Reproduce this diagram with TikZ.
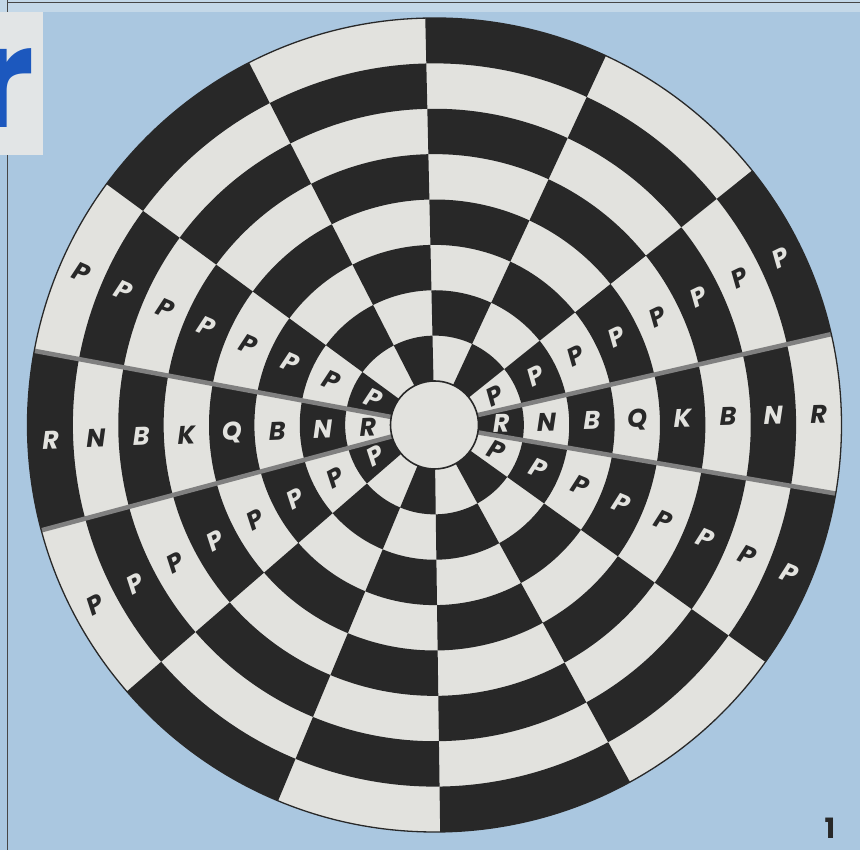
\documentclass[tikz,border=0pt]{standalone}
\usepackage{fontspec}
\newfontfamily\pf{Poppins}
\definecolor{bg}{RGB}{170,199,224}
\definecolor{bgtop}{RGB}{196,216,232}
\definecolor{panel}{RGB}{226,229,230}
\definecolor{lite}{RGB}{226,226,222}
\definecolor{dark}{RGB}{40,40,40}
\definecolor{sep}{RGB}{128,128,128}
\definecolor{frame}{RGB}{70,70,70}
\definecolor{titleblue}{RGB}{28,88,190}
\tikzset{
  piece/.style={font=\pf\bfseries\itshape\fontsize{25.5}{25.5}\selectfont, inner sep=0pt},
  seprule/.style={sep, line width=4.5pt},
  rim/.style={dark, line width=1.3pt}
}
\begin{document}
\begin{tikzpicture}[x=1pt,y=1pt]
\useasboundingbox (0,0) rectangle (860,850);
\fill[bg] (0,0) rectangle (860,850);
\fill[bgtop] (0,838) rectangle (860,850);
% title fragment panel
\fill[panel] (0,695) rectangle (43,838);
\node[titleblue, font=\pf\bfseries\fontsize{140}{140}\selectfont, inner sep=0pt, anchor=base east] (title) at (35,722) {r};
% frame lines
\draw[frame, line width=1pt] (7,0) -- (7,695);
\draw[frame, line width=1pt] (7,838) -- (7,850);
\draw[frame, line width=1pt] (7,847.5) -- (860,847.5);
% page number
\node[dark, font=\pf\bfseries\fontsize{28}{28}\selectfont, inner sep=0pt] (pagenum) at (830,22) {1};
\begin{scope}[shift={(434.5,425)}]
  % board base
  \fill[lite] (0,0) circle (407);
  % dark cells
  \foreach \a/\b [count=\si from 0] in {-9.7/12.9, 12.9/38.7, 38.7/65.1, 65.1/91.3, 91.3/117.1, 117.1/143.7, 143.7/169.5, 169.5/195, 195/220.9, 220.9/247.4, 247.4/270.8, 270.8/298.7, 298.7/324.4, 324.4/350.3} {
    \foreach \r in {1,...,8} {
      \pgfmathtruncatemacro{\pp}{mod(\r+\si,2)}
      \ifnum\pp=1
        \pgfmathsetmacro{\ri}{44+(\r-1)*45.375}
        \pgfmathsetmacro{\ro}{\ri+45.375}
        \fill[dark] (\a:\ri) arc[start angle=\a, end angle=\b, radius=\ri] -- (\b:\ro) arc[start angle=\b, end angle=\a, radius=\ro] -- cycle;
      \fi
    }
  }
  % separators around the back rows
  \coordinate (o) at (0,0);
  \foreach \a [count=\k] in {12.9,-9.7,169.5,195} {
    \coordinate (sa\k) at (\a:44);
    \coordinate (sb\k) at (\a:407);
    \draw[seprule] (sa\k) -- (sb\k);
  }
  \draw[rim] (o) circle (407);
  \filldraw[fill=lite, draw=dark, line width=1.6pt] (o) circle (44);
  % back rows
  \foreach \a/\b/\si/\rot in {-9.7/12.9/0/1.6, 169.5/195/7/2.2} {
    \foreach \L [count=\r] in {R,N,B,Q,K,B,N,R} {
      \pgfmathtruncatemacro{\pp}{mod(\r+\si,2)}
      \pgfmathsetmacro{\c}{(\a+\b)/2}
      \pgfmathsetmacro{\rm}{44+(\r-0.5)*45.375}
      \ifnum\pp=1 \def\lc{lite}\else\def\lc{dark}\fi
      \node[piece, text=\lc, rotate=\rot] (pc-\si-\r) at (\c:\rm) {\L};
    }
  }
  % pawns
  \foreach \a/\b/\si/\rot in {12.9/38.7/1/25.8, 143.7/169.5/6/-23.4, 195/220.9/8/28, 324.4/350.3/13/-22.6} {
    \foreach \r in {1,...,8} {
      \pgfmathtruncatemacro{\pp}{mod(\r+\si,2)}
      \pgfmathsetmacro{\c}{(\a+\b)/2}
      \pgfmathsetmacro{\rm}{44+(\r-0.5)*45.375}
      \ifnum\pp=1 \def\lc{lite}\else\def\lc{dark}\fi
      \node[piece, text=\lc, rotate=\rot] (pw-\si-\r) at (\c:\rm) {P};
    }
  }
\end{scope}
\end{tikzpicture}
\end{document}
